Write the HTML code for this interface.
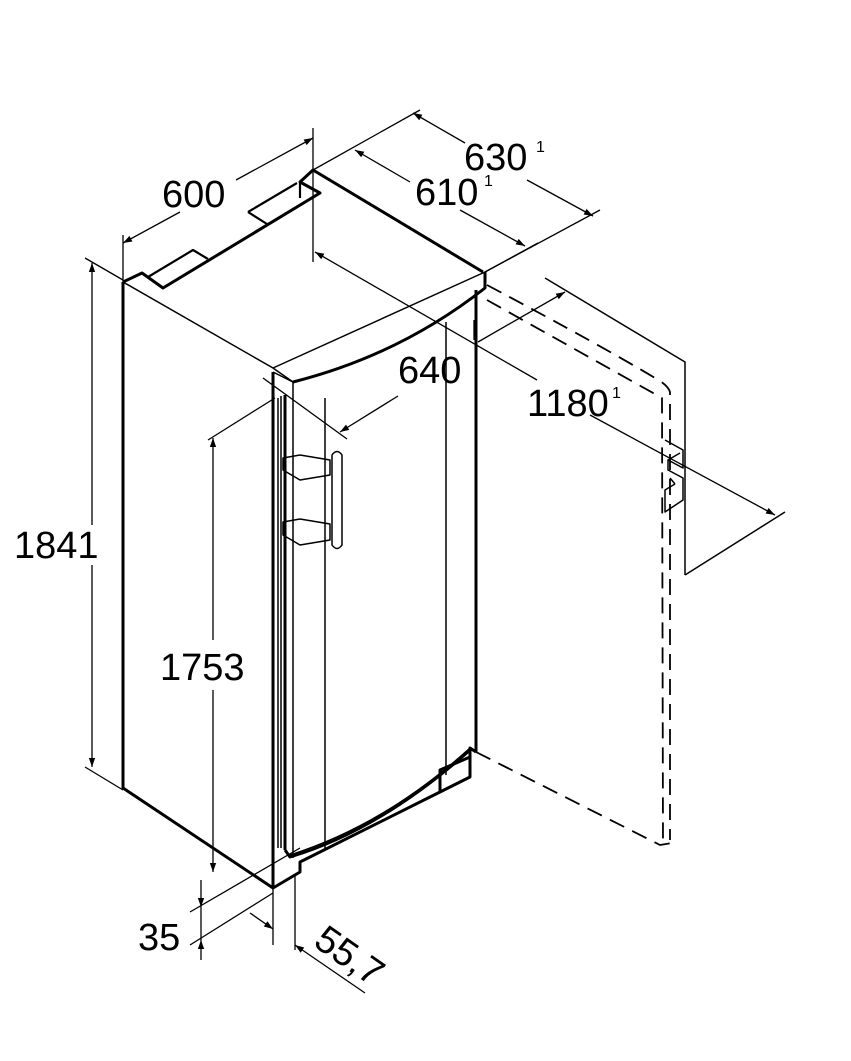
<!DOCTYPE html>
<html><head><meta charset="utf-8"><style>
html,body{margin:0;padding:0;background:#fff;}
svg{display:block;}
text{font-family:"Liberation Sans",Arial,sans-serif;fill:#000;}
</style></head><body>
<svg width="851" height="1061" viewBox="0 0 851 1061" xmlns="http://www.w3.org/2000/svg">
<defs>
<marker id="a" viewBox="0 0 10 10" refX="10" refY="5" markerWidth="14" markerHeight="9" orient="auto-start-reverse" markerUnits="userSpaceOnUse"><path d="M0,1.5 L10,5 L0,8.5 z" fill="#000"/></marker>
</defs>
<g fill="none" stroke="#000" stroke-linejoin="round">
<g stroke-width="3">
<path d="M123,282 L123,788 L273,888 L273,372"/>
<path d="M123,282 L142,273 L163,288 L320,193 L300,182 L313,170 L483,272"/>
<path d="M293,382 Q400,355 485,288 L485,272"/>
<path d="M476,290 L476,752"/>
<path d="M273,888 L300,872 L300,862 L440,792 L440,770 L470,757 L470,748 L476,752"/>
<path d="M440,792 L470,777 L470,757"/>
<path d="M285,850 L290,857 Q380,830 470,750"/>
<path d="M285,395 L285,850"/>
</g>
<g stroke-width="2.2">
<path d="M148,277 L193,250 L208,259"/>
<path d="M248,212 L267,224"/>
<path d="M248,212 L297,183"/>
<path d="M300,182 L300,198"/>
</g>
<g stroke-width="1.5">
<path d="M123,282 L273,368 L293,382 L293,858"/>
<path d="M273,368 L485,272"/>
<path d="M278,398 L278,848 M281,396 L281,848"/>
<path d="M273,372 L293,382"/>
<path d="M325,398 L325,850 M446,322 L446,775"/>
<path d="M290,855 Q385,825 470,748"/>
<path d="M283,458 L300,455 L330,460 L330,475 L300,480 L283,470 z"/>
<path d="M283,522 L300,519 L330,524 L330,540 L300,545 L283,535 z"/>
<path d="M332,455 Q337,448 342,455 L342,545 Q337,552 332,545 z"/>
</g>
<g stroke-width="1.5">
<path d="M545,278 L685,362 L685,575"/>
<path d="M685,575 L785,512"/>
<path d="M665,440 L683,450 L683,468 L668,460 L668,470 L683,478 L683,500 L665,512 L665,490 L675,484 M668,460 L680,453 M675,484 L670,478"/>
</g>
<g stroke-width="1.8" stroke-dasharray="16,9">
<path d="M487,285 Q600,345 655,378 Q668,385 670,392 L670,840"/>
<path d="M487,300 L662,398 L663,845"/>
<path d="M476,752 L660,845 L672,843"/>
</g>
<g stroke-width="1.3">
<path d="M85,258 L123,280 M85,767 L123,790"/>
<line x1="92" y1="263" x2="92" y2="525" marker-start="url(#a)"/>
<line x1="92" y1="565" x2="92" y2="767" marker-end="url(#a)"/>
<path d="M208,440 L275,398"/>
<line x1="213" y1="438" x2="213" y2="640" marker-start="url(#a)"/>
<line x1="213" y1="690" x2="213" y2="872" marker-end="url(#a)"/>
<path d="M123,235 L123,282 M313,128 L313,262"/>
<line x1="123" y1="243" x2="180" y2="212" marker-start="url(#a)"/>
<line x1="236" y1="180" x2="313" y2="138" marker-end="url(#a)"/>
<path d="M313,170 L420,110 M485,272 L600,210"/>
<line x1="413" y1="113" x2="465" y2="143" marker-start="url(#a)"/>
<line x1="527" y1="180" x2="593" y2="216" marker-end="url(#a)"/>
<line x1="355" y1="150" x2="410" y2="182" marker-start="url(#a)"/>
<line x1="460" y1="210" x2="525" y2="246" marker-end="url(#a)"/>
<path d="M485,272 L538,243"/>
<line x1="315" y1="252" x2="537" y2="380" marker-start="url(#a)"/>
<line x1="590" y1="415" x2="775" y2="515" marker-end="url(#a)"/>
<path d="M263,378 L347,439 M474,320 L474,340"/>
<line x1="340" y1="432" x2="398" y2="396" marker-start="url(#a)"/>
<line x1="478" y1="342" x2="565" y2="292" marker-end="url(#a)"/>
<path d="M190,945 L273,893 M190,912 L300,848"/>
<line x1="201" y1="880" x2="201" y2="907" marker-end="url(#a)"/>
<line x1="201" y1="960" x2="201" y2="940" marker-end="url(#a)"/>
<line x1="201" y1="907" x2="201" y2="940"/>
<path d="M273,888 L273,945 M295,875 L295,950"/>
<line x1="250" y1="913" x2="273" y2="929" marker-end="url(#a)"/>
<line x1="365" y1="993" x2="295" y2="945" marker-end="url(#a)"/>
</g>
</g>
<g font-size="38">
<text x="14" y="558">1841</text>
<text x="160" y="680">1753</text>
<text x="162" y="207">600</text>
<text x="464" y="170">630</text><text x="536" y="152" font-size="16">1</text>
<text x="415" y="205">610</text><text x="484" y="186" font-size="16">1</text>
<text x="398" y="383">640</text>
<text x="527" y="416">1180</text><text x="612" y="398" font-size="16">1</text>
<text x="138" y="950">35</text>
<text x="0" y="0" transform="translate(312,945) rotate(35)">55,7</text>
</g>
</svg>
</body></html>
